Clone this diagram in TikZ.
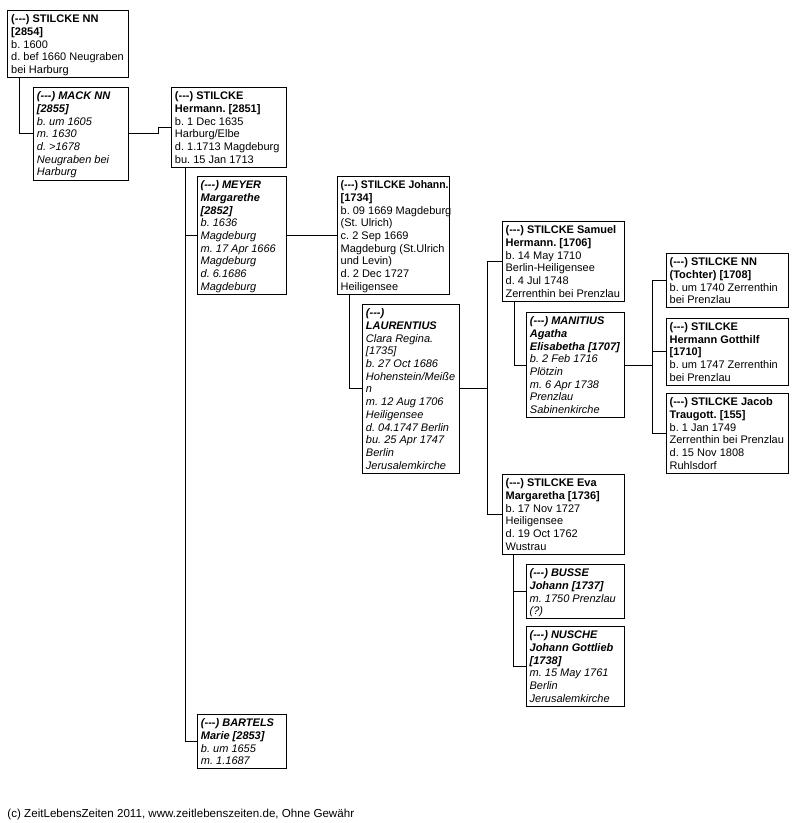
\documentclass[tikz,border=0pt]{standalone}
\usepackage{fontspec}
\setmainfont{Liberation Sans}
\frenchspacing
\newcommand\tstr{\rule{0pt}{12.3pt}}
\newcommand\bstr{\rule[-4pt]{0pt}{4pt}}
\newcommand\dsh{(-{}-{}-)}
\newcommand\bx[2]{\makebox[#1][l]{\begin{tabular}[t]{@{}l@{}}#2\end{tabular}}}
\tikzset{
  box/.style={draw, line width=0.9pt, anchor=north west, inner xsep=3.5pt, inner ysep=0pt,
    font=\fontsize{11}{12.7}\selectfont},
  sbox/.style={box, font=\fontsize{11}{12.7}\selectfont\itshape},
  link/.style={line width=0.9pt},
}
\begin{document}
\begin{tikzpicture}[x=1pt,y=-1pt]
\useasboundingbox (0,0) rectangle (802,823);
\node[box] (n2854) at (7.3,10)
  {\bx{114pt}{\tstr\textbf{\dsh{} STILCKE NN}\\ \textbf{[2854]}\\ b. 1600\\ d. bef 1660 Neugraben\\ bei Harburg\bstr}};
\node[sbox] (mack) at (33,87)
  {\bx{88pt}{\tstr\textbf{\dsh{} MACK NN}\\ \textbf{[2855]}\\ b. um 1605\\ m. 1630\\ d. >1678\\ Neugraben bei\\ Harburg\bstr}};
\node[box] (hermann) at (171,87)
  {\bx{108pt}{\tstr\textbf{\dsh{} STILCKE}\\ \textbf{Hermann. [2851]}\\ b. 1 Dec 1635\\ Harburg/Elbe\\ d. 1.1713 Magdeburg\\ bu. 15 Jan 1713\bstr}};
\node[sbox] (meyer) at (196.7,176)
  {\bx{82.3pt}{\tstr\textbf{\dsh{} MEYER}\\ \textbf{Margarethe}\\ \textbf{[2852]}\\ b. 1636\\ Magdeburg\\ m. 17 Apr 1666\\ Magdeburg\\ d. 6.1686\\ Magdeburg\bstr}};
\node[box] (johann) at (336.7,176)
  {\bx{105.3pt}{\tstr\scalebox{0.95}[1]{\textbf{\dsh{} STILCKE Johann.}}\\ \textbf{[1734]}\\ b. 09 1669 Magdeburg\\ (St. Ulrich)\\ c. 2 Sep 1669\\ Magdeburg (St.Ulrich\\ und Levin)\\ d. 2 Dec 1727\\ Heiligensee\bstr}};
\node[sbox] (laurentius) at (362,304)
  {\bx{90pt}{\tstr\textbf{\dsh}\\ \textbf{LAURENTIUS}\\ Clara Regina.\\{}[1735]\\ b. 27 Oct 1686\\ Hohenstein/Meiße\\ n\\ m. 12 Aug 1706\\ Heiligensee\\ d. 04.1747 Berlin\\ bu. 25 Apr 1747\\ Berlin\\ Jerusalemkirche\bstr}};
\node[box] (samuel) at (501.7,221)
  {\bx{115.3pt}{\tstr\textbf{\dsh{} STILCKE Samuel}\\ \textbf{Hermann. [1706]}\\ b. 14 May 1710\\ Berlin-Heiligensee\\ d. 4 Jul 1748\\ Zerrenthin bei Prenzlau\bstr}};
\node[sbox] (manitius) at (526,312)
  {\bx{91pt}{\tstr\textbf{\dsh{} MANITIUS}\\ \textbf{Agatha}\\ \textbf{Elisabetha [1707]}\\ b. 2 Feb 1716\\ Plötzin\\ m. 6 Apr 1738\\ Prenzlau\\ Sabinenkirche\bstr}};
\node[box] (tochter) at (665.7,253)
  {\bx{115.3pt}{\tstr\textbf{\dsh{} STILCKE NN}\\ \textbf{(Tochter) [1708]}\\ b. um 1740 Zerrenthin\\ bei Prenzlau\bstr}};
\node[box] (gotthilf) at (665.7,317.7)
  {\bx{115.3pt}{\tstr\textbf{\dsh{} STILCKE}\\ \textbf{Hermann Gotthilf}\\ \textbf{[1710]}\\ b. um 1747 Zerrenthin\\ bei Prenzlau\bstr}};
\node[box] (jacob) at (665.7,393)
  {\bx{115.3pt}{\tstr\textbf{\dsh{} STILCKE Jacob}\\ \textbf{Traugott. [155]}\\ b. 1 Jan 1749\\ Zerrenthin bei Prenzlau\\ d. 15 Nov 1808\\ Ruhlsdorf\bstr}};
\node[box] (eva) at (501.7,474)
  {\bx{115.3pt}{\tstr\textbf{\dsh{} STILCKE Eva}\\ \textbf{Margaretha [1736]}\\ b. 17 Nov 1727\\ Heiligensee\\ d. 19 Oct 1762\\ Wustrau\bstr}};
\node[sbox] (busse) at (525.7,564)
  {\bx{91.3pt}{\tstr\textbf{\dsh{} BUSSE}\\ \textbf{Johann [1737]}\\ m. 1750 Prenzlau\\ (?)\bstr}};
\node[sbox] (nusche) at (525.7,626)
  {\bx{91.3pt}{\tstr\textbf{\dsh{} NUSCHE}\\ \textbf{Johann Gottlieb}\\ \textbf{[1738]}\\ m. 15 May 1761\\ Berlin\\ Jerusalemkirche\bstr}};
\node[sbox] (bartels) at (197,714)
  {\bx{82pt}{\tstr\textbf{\dsh{} BARTELS}\\ \textbf{Marie [2853]}\\ b. um 1655\\ m. 1.1687\bstr}};
\node[anchor=base west, inner sep=0pt, font=\fontsize{11.6}{13}\selectfont] (footer) at (7.3,817)
  {(c) ZeitLebensZeiten 2011, www.zeitlebenszeiten.de, Ohne Gewähr};
% connectors
\draw[link] ([xshift=12pt]n2854.south west) |- (mack.west);
\draw[link] (mack.east) -- ++(30,0) |- (hermann.west);
\draw[link] ([xshift=14pt]hermann.south west) |- (meyer.west);
\draw[link] ([xshift=14pt]hermann.south west) |- (bartels.west);
\draw[link] (meyer.east) -- (johann.west |- meyer.east);
\draw[link] ([xshift=12.3pt]johann.south west) |- (laurentius.west);
\coordinate (lj) at ([xshift=28pt]laurentius.east);
\draw[link] (laurentius.east) -- (lj);
\draw[link] (lj) |- (samuel.west);
\draw[link] (lj) |- (eva.west);
\draw[link] ([xshift=12.3pt]samuel.south west) |- (manitius.west);
\coordinate (mj) at ([xshift=28pt]manitius.east);
\draw[link] (manitius.east) -- (mj);
\draw[link] (mj) |- (tochter.west);
\draw[link] (mj) |- (gotthilf.west);
\draw[link] (mj) |- (jacob.west);
\draw[link] ([xshift=11.3pt]eva.south west) |- (busse.west);
\draw[link] ([xshift=11.3pt]eva.south west) |- (nusche.west);
\end{tikzpicture}
\end{document}
